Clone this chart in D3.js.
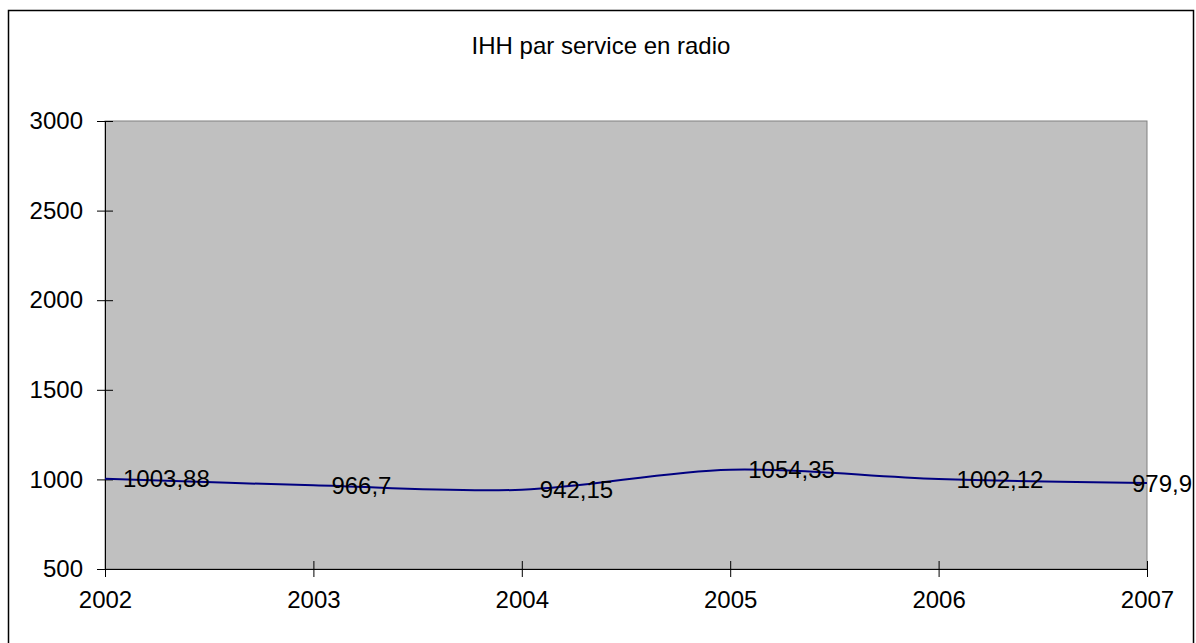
<!doctype html>
<html lang="fr">
<head>
  <meta charset="utf-8">
  <title>IHH par service en radio</title>
  <style>
    body { margin: 0; background: #fff; }
    svg text { font-family: Arial, "Liberation Sans", sans-serif; fill: #000; }
  </style>
</head>
<body>
  <div id="chart"></div>
  <script src="https://cdn.jsdelivr.net/npm/d3@7"></script>
  <script>
(function(){

  var years = ['2002', '2003', '2004', '2005', '2006', '2007'];
  var ihh = [1003.88, 966.7, 942.15, 1054.35, 1002.12, 979.9];
  var labels = ['1003,88', '966,7', '942,15', '1054,35', '1002,12', '979,9'];
  var yTicks = [500, 1000, 1500, 2000, 2500, 3000];

  var width = 1196, height = 643;
  var plot = { left: 105, right: 1147, top: 121, bottom: 569 };
  var font = 'Arial, "Liberation Sans", sans-serif';

  var svg = d3.select('#chart').append('svg')
      .attr('width', width)
      .attr('height', height);

  // chart border
  svg.append('rect')
      .attr('x', 8.5).attr('y', 10.5)
      .attr('width', 1185).attr('height', 640)
      .attr('fill', '#fff')
      .attr('stroke', '#000')
      .attr('stroke-width', 1.5);

  svg.append('text')
      .attr('x', 601).attr('y', 45)
      .attr('text-anchor', 'middle')
      .attr('dominant-baseline', 'central')
      .style('font-size', '24px')
      .text('IHH par service en radio');

  var x = d3.scalePoint().domain(years).range([plot.left, plot.right]);
  var y = d3.scaleLinear().domain([500, 3000]).range([plot.bottom, plot.top]);

  svg.append('rect')
      .attr('x', plot.left).attr('y', plot.top)
      .attr('width', plot.right - plot.left)
      .attr('height', plot.bottom - plot.top)
      .attr('fill', '#c0c0c0')
      .attr('stroke', '#808080')
      .attr('stroke-width', 1);

  var yAxis = svg.append('g')
      .attr('transform', 'translate(' + plot.left + ',0)')
      .call(d3.axisLeft(y).tickValues(yTicks).tickFormat(d3.format('d'))
        .tickSizeInner(8).tickSizeOuter(0).tickPadding(14));
  yAxis.selectAll('.tick line').attr('x2', 8).attr('x1', -8).attr('stroke', '#000');
  yAxis.select('.domain').attr('stroke', '#000');
  yAxis.selectAll('text').style('font-size', '24px').style('font-family', font);

  var xAxis = svg.append('g')
      .attr('transform', 'translate(0,' + plot.bottom + ')')
      .call(d3.axisBottom(x).tickSizeInner(8).tickSizeOuter(0).tickPadding(14));
  xAxis.selectAll('.tick line').attr('y1', -8).attr('y2', 8).attr('stroke', '#000');
  xAxis.selectAll('.tick').filter(function(d, i) { return i === 0; }).select('line').attr('y1', 0);
  xAxis.select('.domain').attr('stroke', '#000');
  xAxis.selectAll('text').style('font-size', '24px').style('font-family', font);

  var line = d3.line()
      .x(function(d, i) { return x(years[i]); })
      .y(function(d) { return y(d); })
      .curve(d3.curveCatmullRom.alpha(0));

  svg.append('path')
      .datum(ihh)
      .attr('d', line)
      .attr('fill', 'none')
      .attr('stroke', '#000080')
      .attr('stroke-width', 2);

  svg.selectAll('.lbl')
      .data(ihh)
      .enter().append('text')
      .attr('class', 'lbl')
      .attr('x', function(d, i) { return i === ihh.length - 1 ? 1192 : x(years[i]) + 18; })
      .attr('y', function(d) { return y(d); })
      .attr('text-anchor', function(d, i) { return i === ihh.length - 1 ? 'end' : 'start'; })
      .attr('dominant-baseline', 'central')
      .style('font-size', '24px')
      .text(function(d, i) { return labels[i]; });

})();
  </script>
</body>
</html>
